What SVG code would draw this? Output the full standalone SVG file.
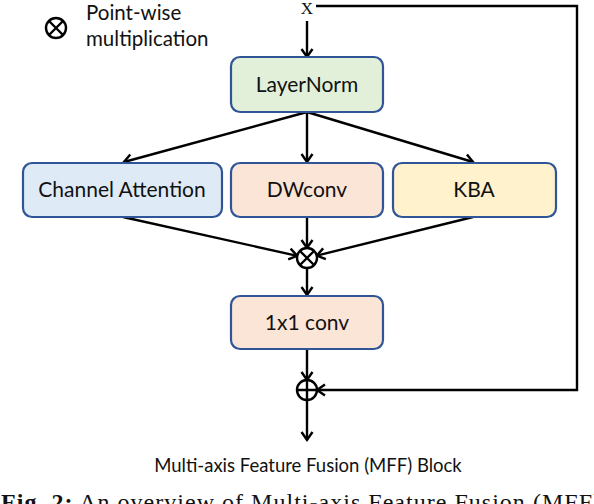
<svg xmlns="http://www.w3.org/2000/svg" width="594" height="504" viewBox="0 0 594 504">
<defs>
<style>
.box{stroke:#2F5597;stroke-width:2.2}
.lbl{font-family:Lato,"Liberation Sans",sans-serif;font-size:21px;fill:#111;text-anchor:middle}
.leg{font-family:Lato,"Liberation Sans",sans-serif;font-size:20.5px;fill:#111}
.cap{font-family:Lato,"Liberation Sans",sans-serif;font-size:18.5px;fill:#111;text-anchor:middle}
.ln{fill:none;stroke:#000;stroke-width:2.4}
.op{fill:#fff;stroke:#000;stroke-width:2.4}
</style>
<marker id="arr" markerUnits="userSpaceOnUse" markerWidth="14" markerHeight="14" refX="10" refY="7" orient="auto" overflow="visible">
<path d="M2,1.5 L10,7 L2,12.5" fill="none" stroke="#000" stroke-width="2.4"/>
</marker>
</defs>
<rect width="594" height="504" fill="#fff"/>

<g id="legend">
<circle cx="56" cy="28" r="10" class="op"/>
<path d="M49,21 L63,35 M63,21 L49,35" class="ln" stroke-width="2"/>
<text x="86" y="20" class="leg">Point-wise</text>
<text x="86" y="46" class="leg">multiplication</text>
</g>

<g id="input">
<text x="307" y="14" font-family="'Liberation Serif',serif" font-size="17" text-anchor="middle" fill="#111">X</text>
</g>

<g id="connectors">
<path d="M307,21 L307,57" class="ln" marker-end="url(#arr)"/>
<path d="M307,112 L124,162" class="ln" marker-end="url(#arr)"/>
<path d="M307,112 L307,162" class="ln" marker-end="url(#arr)"/>
<path d="M307,112 L473,162" class="ln" marker-end="url(#arr)"/>
<path d="M123,217 L297.2,255.8" class="ln" marker-end="url(#arr)"/>
<path d="M307,217 L307,248" class="ln" marker-end="url(#arr)"/>
<path d="M473,217 L316.7,255.6" class="ln" marker-end="url(#arr)"/>
<path d="M307,268 L307,295" class="ln" marker-end="url(#arr)"/>
<path d="M307,349 L307,380" class="ln" marker-end="url(#arr)"/>
<path d="M316,6 L577,6 L577,390 L317,390" class="ln" marker-end="url(#arr)"/>
<path d="M307,400 L307,440" class="ln" marker-end="url(#arr)"/>
</g>

<g id="layernorm">
<rect x="231" y="57" width="152" height="55" rx="9" class="box" fill="#E2F0D9"/>
<text x="307" y="92" class="lbl">LayerNorm</text>
</g>
<g id="channel-attention">
<rect x="23" y="163" width="199" height="54" rx="9" class="box" fill="#DEEBF7"/>
<text x="122" y="197" class="lbl">Channel Attention</text>
</g>
<g id="dwconv">
<rect x="231" y="163" width="152" height="54" rx="9" class="box" fill="#FBE5D6"/>
<text x="307" y="197" class="lbl">DWconv</text>
</g>
<g id="kba">
<rect x="393" y="163" width="163" height="54" rx="9" class="box" fill="#FFF2CC"/>
<text x="474" y="197" class="lbl">KBA</text>
</g>
<g id="mult">
<circle cx="307" cy="258" r="10" class="op"/>
<path d="M300,251 L314,265 M314,251 L300,265" class="ln" stroke-width="2"/>
</g>
<g id="conv1x1">
<rect x="231" y="296" width="152" height="53" rx="9" class="box" fill="#FBE5D6"/>
<text x="307" y="330" class="lbl">1x1 conv</text>
</g>
<g id="add">
<circle cx="307" cy="390" r="10" class="op"/>
<path d="M297,390 L317,390 M307,380 L307,400" class="ln" stroke-width="2"/>
</g>

<text x="308" y="472" class="cap">Multi-axis Feature Fusion (MFF) Block</text>
<text x="1" y="510" font-family="'Liberation Serif',serif" font-size="24" fill="#111" textLength="600" lengthAdjust="spacing"><tspan font-weight="bold">Fig. 2:</tspan> An overview of Multi-axis Feature Fusion (MFF)</text>
</svg>
